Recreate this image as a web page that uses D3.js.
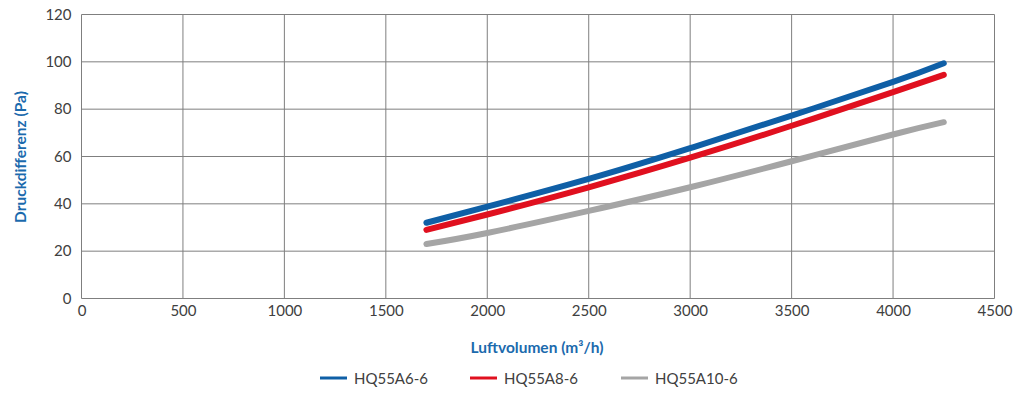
<!DOCTYPE html>
<html><head><meta charset="utf-8">
<script src="https://cdn.jsdelivr.net/npm/d3@7"></script>
<style>body{margin:0;background:#fff}svg{display:block}</style>
</head><body>
<svg id="c" width="1024" height="398"></svg>
<script>
const airflow = [1700, 2000, 2500, 3000, 3500, 4000, 4250];
const hq55a6 = [32, 38.8, 50.5, 63.5, 77.3, 91.5, 99.4];
const hq55a8 = [29, 35.5, 47, 59.5, 73, 87.2, 94.5];
const hq55a10 = [23, 27.7, 37, 47, 58, 69.3, 74.5];
const seriesNames = ["HQ55A6-6", "HQ55A8-6", "HQ55A10-6"];
const seriesColors = ["#0f5fa6", "#e0101f", "#a5a5a5"];
const xTicks = [0, 500, 1000, 1500, 2000, 2500, 3000, 3500, 4000, 4500];
const yTicks = [0, 20, 40, 60, 80, 100, 120];

const svg = d3.select("#c");
const font = "Lato, 'Open Sans', sans-serif";
const x = d3.scaleLinear().domain([0, 4500]).range([81.5, 994.5]);
const y = d3.scaleLinear().domain([0, 120]).range([298.5, 14.5]);

const grid = svg.append("g");
grid.selectAll("line.v").data(xTicks).join("line")
  .attr("x1", d => x(d)).attr("x2", d => x(d)).attr("y1", y(0)).attr("y2", y(120))
  .attr("stroke", "#7f7f7f").attr("stroke-width", 1);
grid.selectAll("line.h").data(yTicks).join("line")
  .attr("y1", d => y(d)).attr("y2", d => y(d)).attr("x1", x(0)).attr("x2", x(4500))
  .attr("stroke", "#7f7f7f").attr("stroke-width", 1);

const xa = svg.append("g").attr("transform", `translate(0,${y(0)})`)
  .call(d3.axisBottom(x).tickValues(xTicks).tickSize(0).tickPadding(7).tickFormat(d3.format("d")));
const ya = svg.append("g").attr("transform", `translate(${x(0)},0)`)
  .call(d3.axisLeft(y).tickValues(yTicks).tickSize(0).tickPadding(10).tickFormat(d3.format("d")));
[xa, ya].forEach(a => {
  a.select(".domain").remove();
  a.selectAll("text").attr("fill", "#404040").style("font-family", font).style("font-size", "15px");
});

const series = [hq55a6, hq55a8, hq55a10];
const line = d3.line().x((d, i) => x(airflow[i])).y(d => y(d)).curve(d3.curveNatural);
series.forEach((s, k) => {
  svg.append("path").datum(s).attr("d", line).attr("fill", "none")
    .attr("stroke", seriesColors[k]).attr("stroke-width", 6).attr("stroke-linecap", "round");
});

svg.append("text").attr("transform", "translate(26,157) rotate(-90)").attr("text-anchor", "middle")
  .attr("fill", "#1b6aad").style("font-family", font).style("font-size", "15.5px").style("font-weight", "bold")
  .text("Druckdifferenz (Pa)");
svg.append("text").attr("x", 537).attr("y", 353).attr("text-anchor", "middle")
  .attr("fill", "#1b6aad").style("font-family", font).style("font-size", "15.5px").style("font-weight", "bold")
  .text("Luftvolumen (m³/h)");

const legX = [320, 470, 621];
seriesNames.forEach((n, k) => {
  const g = svg.append("g").attr("transform", `translate(${legX[k]},378)`);
  g.append("line").attr("x1", 0).attr("x2", 27).attr("y1", 0).attr("y2", 0)
    .attr("stroke", seriesColors[k]).attr("stroke-width", 3);
  g.append("text").attr("x", 34).attr("y", 5.5).attr("fill", "#404040")
    .style("font-family", font).style("font-size", "15px").text(n);
});
</script>
</body></html>
